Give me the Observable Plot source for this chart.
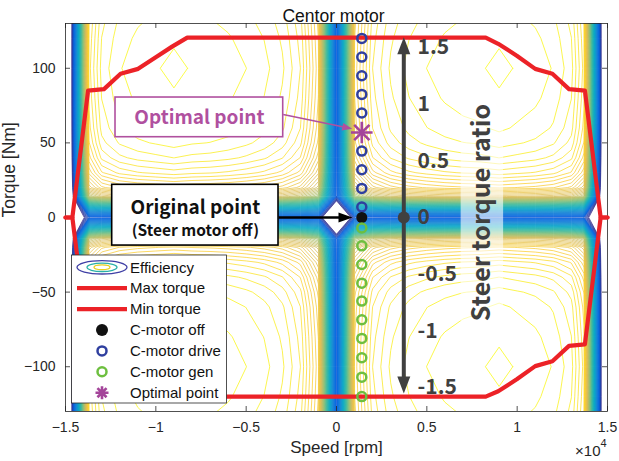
<!DOCTYPE html>
<html><head><meta charset="utf-8">
<script src="https://cdn.jsdelivr.net/npm/d3@7"></script>
<script src="https://cdn.jsdelivr.net/npm/@observablehq/plot@0.6"></script>
<style>body{margin:0;background:#fff} svg{display:block}</style>
</head><body><div id="chart"></div>
<script>
// ---------- data ----------
// efficiency map, one quadrant (|speed|, |torque|), mirrored to the four quadrants
const speedQ = [0,1000,2000,3000,4000,5000,6000,7000,8000,9000,10000,11000,12000,13000,13700,15000];
const torqueQ = [0,14,20,30,40,50,60,80,100,120,130];
const effQ = [
 [0.00,0.30,0.30,0.30,0.30,0.30,0.30,0.30,0.30,0.30,0.30,0.30,0.30,0.30,0.30,0],
 [0.30,0.6913,0.7381,0.7561,0.7655,0.7709,0.7749,0.7772,0.7784,0.7811,0.7784,0.7756,0.7702,0.7577,0.7264,0],
 [0.30,0.7545,0.8056,0.8252,0.8355,0.8414,0.8457,0.8482,0.8495,0.8525,0.8495,0.8465,0.8406,0.8269,0.7928,0],
 [0.30,0.7924,0.8462,0.8667,0.8775,0.8838,0.8882,0.8909,0.8923,0.8954,0.8923,0.8891,0.8829,0.8685,0.8327,0],
 [0.30,0.8143,0.8695,0.8907,0.9017,0.9081,0.9127,0.9155,0.9169,0.9201,0.9169,0.9137,0.9072,0.8925,0.8557,0],
 [0.30,0.8269,0.8830,0.9045,0.9157,0.9223,0.9269,0.9297,0.9311,0.9344,0.9311,0.9279,0.9213,0.9064,0.8690,0],
 [0.30,0.8337,0.8902,0.9119,0.9232,0.9298,0.9345,0.9373,0.9387,0.9420,0.9387,0.9354,0.9288,0.9137,0.8761,0],
 [0.30,0.8396,0.8965,0.9183,0.9297,0.9364,0.9411,0.9440,0.9454,0.9487,0.9454,0.9421,0.9354,0.9202,0.8823,0],
 [0.30,0.8430,0.9001,0.9220,0.9335,0.9401,0.9449,0.9477,0.9492,0.9525,0.9492,0.9458,0.9392,0.9239,0.8858,0],
 [0.30,0.8396,0.8965,0.9183,0.9297,0.9364,0.9411,0.9440,0.9454,0.9487,0.9454,0.9421,0.9354,0.9202,0.8823,0],
 [0.30,0.8370,0.8938,0.9155,0.9269,0.9335,0.9382,0.9411,0.9425,0.9458,0.9425,0.9392,0.9326,0.9174,0.8796,0]
];
const effLevels = d3.range(0.24, 0.9505, 0.01);
const parula = ["#352a87","#0363e1","#1485d4","#06a7c6","#38b99e","#92bf73","#d9ba56","#fcce2e","#f9fb0e"];

const maxSpeed  = [-15000,-14620,-13750,-12870,-11950,-10980,-9960,-9100,-8260,8260,8950,9980,11000,11950,12870,13750,14620,15000];
const maxTorque = [0,0,85,86,96.3,99.6,107.8,114.5,120.5,120.5,116.4,108.4,99.6,96.3,86,85,0,0];
const minSpeed  = [-15000,-14620,-13750,-12870,-11950,-10980,-9960,-9100,-8260,8260,8950,9980,11000,11950,12870,13750,14620,15000];
const minTorque = [0,0,-85,-86,-96.3,-99.6,-107.8,-114.5,-120,-120,-116.4,-108.4,-99.6,-96.3,-86,-85,0,0];

const cMotorSpeed = 1400;
const driveTorque = [120,107.5,95,82.5,70,44.5,32,19.5,7];
const genTorque = [-7,-19,-31.5,-44,-56,-68.5,-81,-94,-107,-120];
const optimalTorque = 57;
const offTorque = 0;

const steerSpeed = 3725;
const ratioLabels = [1.5,1,0.5,0,-0.5,-1,-1.5];
const ratioToTorque = 76;

const xTicks = [-15000,-10000,-5000,0,5000,10000,15000];
const yTicks = [-100,-50,0,50,100];
const legendLabels = ["Efficiency","Max torque","Min torque","C-motor off","C-motor drive","C-motor gen","Optimal point"];

// ---------- build full grid ----------
const nQs = speedQ.length, nQt = torqueQ.length;
const speedsAll = [...speedQ.slice(1).reverse().map(v => -v), ...speedQ];
const torquesAll = [...torqueQ.slice(1).reverse().map(v => -v), ...torqueQ];
const nx = speedsAll.length, ny = torquesAll.length;
const grid = new Float64Array(nx * ny);
for (let j = 0; j < ny; j++) for (let i = 0; i < nx; i++) {
  const si = Math.abs(i - (nQs - 1)), tj = Math.abs(j - (nQt - 1));
  grid[j * nx + i] = effQ[tj][si];
}
function toData(c, arr) {
  let u = c - 0.5;
  if (u < 0) u = 0; if (u > arr.length - 1) u = arr.length - 1;
  const k = Math.min(Math.floor(u), arr.length - 2), f = u - k;
  return arr[k] + f * (arr[k + 1] - arr[k]);
}
const contourPts = [];
let segId = 0;
const gen = d3.contours().size([nx, ny]).smooth(true);
const isB = p => p[0] <= 1e-9 || p[0] >= nx - 1e-9 || p[1] <= 1e-9 || p[1] >= ny - 1e-9;
for (const L of effLevels) {
  const c = gen.contour(grid, L);
  for (const poly of c.coordinates) for (const ring0 of poly) {
    let ring = ring0.slice();
    const closed = ring.length > 1 && ring[0][0] === ring[ring.length-1][0] && ring[0][1] === ring[ring.length-1][1];
    if (closed) ring.pop();
    const start = ring.findIndex(isB);
    let pts;
    if (start >= 0) { pts = ring.slice(start).concat(ring.slice(0, start)); pts.push(ring[start]); }
    else { pts = ring.concat([ring[0]]); }
    let cur = [];
    const flush = () => {
      if (cur.length > 1) { segId++; for (const p of cur) contourPts.push({x: toData(p[0], speedsAll), y: toData(p[1], torquesAll), level: L, id: segId}); }
      cur = [];
    };
    for (const p of pts) { if (isB(p)) flush(); else cur.push(p); }
    flush();
  }
}

// ---------- helpers ----------
function headSymbol(w, h, deg) {
  const a = deg * Math.PI / 180, c = Math.cos(a), s = Math.sin(a);
  const pts = [[0,0],[-w,h],[w,h]].map(([x,y]) => [x*c - y*s, x*s + y*c]);
  return {draw(ctx) { ctx.moveTo(...pts[0]); ctx.lineTo(...pts[1]); ctx.lineTo(...pts[2]); ctx.closePath(); }};
}
const minus = v => v < 0 ? "\u2212" + (-v) : String(v);
const boldFont = "'Noto Sans CJK KR', 'Noto Sans', sans-serif";
const purple = "#b0509f", gray = "#404040", red = "#ec2227", blue = "#2f3f9f", green = "#6dbf3f";

const chart = Plot.plot({
  width: 619, height: 461,
  marginLeft: 65, marginRight: 12, marginTop: 23, marginBottom: 50,
  x: {domain: [-15000, 15000]},
  y: {domain: [-130, 130]},
  color: {type: "linear", domain: [effLevels[0], effLevels[effLevels.length-1]], interpolate: d3.piecewise(d3.interpolateRgb, parula)},
  style: {fontFamily: "'Liberation Sans', Arial, sans-serif", fontSize: "14px", color: "#262626", background: "white"},
  marks: [
    Plot.line(contourPts, {x: "x", y: "y", z: "id", stroke: "level", strokeWidth: 0.75, clip: true}),
    // translucent backing of the rotated label
    Plot.rect([0], {x1: 6900, x2: 9250, y1: -78, y2: 84, fill: "white", fillOpacity: 0.6}),
    Plot.frame({stroke: "#262626", strokeWidth: 0.8}),
    Plot.ruleX(xTicks, {y1: -130, y2: -126.65, stroke: "#262626", strokeWidth: 0.8}),
    Plot.ruleX(xTicks, {y1: 130, y2: 126.65, stroke: "#262626", strokeWidth: 0.8}),
    Plot.ruleY(yTicks, {x1: -15000, x2: -14723, stroke: "#262626", strokeWidth: 0.8}),
    Plot.ruleY(yTicks, {x1: 15000, x2: 14723, stroke: "#262626", strokeWidth: 0.8}),
    Plot.axisX(xTicks, {tickSize: 0, tickPadding: 11, tickFormat: d => minus(d / 1e4), label: null}),
    Plot.axisY(yTicks, {tickSize: 0, tickPadding: 10, tickFormat: d => minus(d), label: null}),
    Plot.text(["Speed [rpm]"], {frameAnchor: "bottom", dy: 41, fontSize: 17, fill: "#262626"}),
    Plot.text(["Torque [Nm]"], {frameAnchor: "left", dx: -56, rotate: -90, fontSize: 17.5, fill: "#262626"}),
    Plot.text(["Centor motor"], {frameAnchor: "top", dy: -13.5, dx: -3, fontSize: 17.5, fill: "#111"}),
    Plot.text(["\u00d710"], {frameAnchor: "bottom-right", dy: 44, dx: -7, textAnchor: "end", fontSize: 15, fill: "#262626"}),
    Plot.text(["4"], {frameAnchor: "bottom-right", dy: 35, dx: -7, textAnchor: "start", fontSize: 11, fill: "#262626"}),
    // torque limits
    Plot.line(maxSpeed.map((s, i) => ({s, t: maxTorque[i]})), {x: "s", y: "t", stroke: red, strokeWidth: 4.2, strokeLinejoin: "round"}),
    Plot.line(minSpeed.map((s, i) => ({s, t: minTorque[i]})), {x: "s", y: "t", stroke: red, strokeWidth: 4.2, strokeLinejoin: "round"}),
    // steer torque ratio arrow
    Plot.ruleX([steerSpeed], {y1: -108, y2: 111, stroke: gray, strokeWidth: 4}),
    Plot.dot([[steerSpeed, 120.8]], {x: d => d[0], y: d => d[1], r: 5, fill: gray, symbol: headSymbol(6.5, 17, 0)}),
    Plot.dot([[steerSpeed, -118]], {x: d => d[0], y: d => d[1], r: 5, fill: gray, symbol: headSymbol(6.5, 17, 180)}),
    Plot.dot([[steerSpeed, 0]], {x: d => d[0], y: d => d[1], r: 6, fill: gray}),
    Plot.text(ratioLabels, {x: 4483, y: d => d * ratioToTorque, text: d => String(d), textAnchor: "start", fontSize: 21, fontWeight: 700, fill: gray, fontFamily: boldFont}),
    Plot.text(["Steer torque ratio"], {x: 8081, y: 3.3, rotate: -90, fontSize: 25, fontWeight: 700, fill: gray, fontFamily: boldFont}),
    // operating points
    Plot.dot(driveTorque, {x: () => cMotorSpeed, y: d => d, r: 4.5, stroke: blue, strokeWidth: 2.5, fill: "none"}),
    Plot.dot([offTorque], {x: () => cMotorSpeed, y: d => d, r: 5.5, fill: "#111"}),
    Plot.dot(genTorque, {x: () => cMotorSpeed, y: d => d, r: 4.5, stroke: green, strokeWidth: 2.5, fill: "none"}),
    Plot.dot([optimalTorque], {x: () => cMotorSpeed, y: d => d, r: 7, symbol: "plus", stroke: "#a4459a", strokeWidth: 2.6}),
    Plot.dot([optimalTorque], {x: () => cMotorSpeed, y: d => d, r: 7, symbol: "times", stroke: "#a4459a", strokeWidth: 2.6}),
    // annotation: original point
    Plot.link([0], {x1: -3210, y1: 0, x2: 300, y2: 0, stroke: "#000", strokeWidth: 2.5}),
    Plot.dot([[886, 0]], {x: d => d[0], y: d => d[1], r: 5, fill: "#000", symbol: headSymbol(5, 14, 90)}),
    Plot.rect([0], {x1: -12415, x2: -3210, y1: -18.8, y2: 21.9, fill: "white", stroke: "#000", strokeWidth: 1.6}),
    Plot.text(["Original point"], {x: -7812, y: 6.7, fontSize: 19, fontWeight: 700, fill: "#111", fontFamily: boldFont}),
    Plot.text(["(Steer motor off)"], {x: -7812, y: -9.4, fontSize: 15.5, fontWeight: 700, fill: "#111", fontFamily: boldFont}),
    // annotation: optimal point
    Plot.link([0], {x1: -2950, y1: 69, x2: 400, y2: 60.6, stroke: purple, strokeWidth: 1.6}),
    Plot.dot([[869, 59.4]], {x: d => d[0], y: d => d[1], r: 5, fill: purple, symbol: headSymbol(3.8, 10, 101.7)}),
    Plot.rect([0], {x1: -12232, x2: -2950, y1: 53.8, y2: 80.4, fill: "white", stroke: purple, strokeWidth: 1.6}),
    Plot.text(["Optimal point"], {x: -7590, y: 67, fontSize: 19, fontWeight: 700, fill: purple, fontFamily: boldFont})
  ]
});
document.getElementById("chart").appendChild(chart);

// ---------- legend ----------
const svg = d3.select(chart);
const lg = svg.append("g").attr("text-anchor", "start");
lg.append("rect").attr("x", 71.5).attr("y", 255).attr("width", 155).attr("height", 148)
  .attr("fill", "white").attr("stroke", "#262626").attr("stroke-width", 0.8);
const cx = 102;
legendLabels.forEach((label, i) => {
  const y = 267.3 + i * 20.9;
  lg.append("text").attr("x", 130).attr("y", y).attr("dy", "0.35em").attr("text-anchor", "start")
    .attr("font-family", "'Liberation Sans', Arial, sans-serif").attr("font-size", 15).attr("fill", "#111").text(label);
  if (i === 0) {
    [[25, 6.7, "#3f3fa5"], [15, 4.2, "#2ab0a8"], [8, 2.4, "#e8d020"]].forEach(([rx, ry, c]) =>
      lg.append("ellipse").attr("cx", cx).attr("cy", y).attr("rx", rx).attr("ry", ry).attr("fill", "none").attr("stroke", c).attr("stroke-width", 1.3));
  } else if (i === 1 || i === 2) {
    lg.append("line").attr("x1", 77).attr("x2", 127).attr("y1", y).attr("y2", y).attr("stroke", red).attr("stroke-width", 4.2);
  } else if (i === 3) {
    lg.append("circle").attr("cx", cx).attr("cy", y).attr("r", 6).attr("fill", "#111");
  } else if (i === 4 || i === 5) {
    lg.append("circle").attr("cx", cx).attr("cy", y).attr("r", 4.5).attr("fill", "none").attr("stroke", i === 4 ? blue : green).attr("stroke-width", 2.5);
  } else {
    const r = 6.5;
    lg.append("path").attr("d", `M${cx-r},${y}H${cx+r}M${cx},${y-r}V${y+r}M${cx-r*0.7},${y-r*0.7}L${cx+r*0.7},${y+r*0.7}M${cx-r*0.7},${y+r*0.7}L${cx+r*0.7},${y-r*0.7}`)
      .attr("stroke", "#a4459a").attr("stroke-width", 2.6).attr("fill", "none");
  }
});
</script>
</body></html>
